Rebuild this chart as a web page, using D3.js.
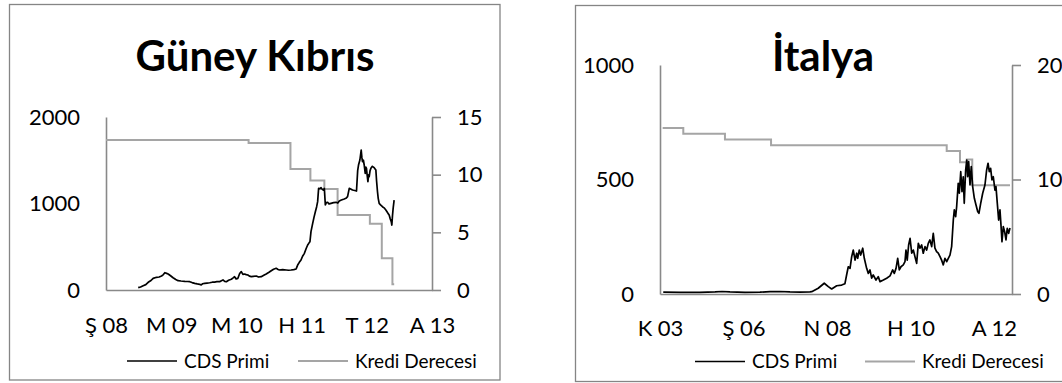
<!DOCTYPE html>
<html>
<head>
<meta charset="utf-8">
<script src="https://cdn.jsdelivr.net/npm/d3@7"></script>
<style>
  html, body { margin: 0; padding: 0; background: #fff; }
  svg { display: block; }
  text { font-family: Lato, "Open Sans", sans-serif; fill: #000; }
</style>
</head>
<body>
<svg id="chart" width="1062" height="383"></svg>
<script>
// ---------- Güney Kıbrıs ----------
// x positions are in label-interval units (0 = first date label, 1 = next, ...)
const cyprusTitle = "Güney Kıbrıs";
const cyprusXLabels = ["Ş 08", "M 09", "M 10", "H 11", "T 12", "A 13"];
const cyprusLeftTicks = [0, 1000, 2000];
const cyprusRightTicks = [0, 5, 10, 15];
const cyprusCds = [
  [0.494, 27], [0.530, 35], [0.570, 50], [0.610, 62], [0.647, 89], [0.690, 110], [0.723, 135],
  [0.775, 147], [0.815, 150], [0.852, 162], [0.880, 178], [0.902, 200], [0.930, 192], [0.953, 185],
  [0.990, 165], [1.029, 142], [1.070, 122], [1.106, 108], [1.150, 104], [1.208, 100], [1.250, 98],
  [1.284, 96], [1.320, 86], [1.361, 77], [1.400, 70], [1.437, 66], [1.460, 58], [1.480, 72],
  [1.514, 77], [1.550, 80], [1.590, 84], [1.630, 90], [1.667, 92], [1.700, 96], [1.743, 96],
  [1.770, 108], [1.794, 116], [1.820, 100], [1.846, 96], [1.880, 112], [1.922, 124], [1.950, 140],
  [1.972, 154], [1.995, 128], [2.023, 135], [2.050, 190], [2.075, 212], [2.100, 180], [2.125, 185],
  [2.150, 178], [2.176, 173], [2.200, 160], [2.228, 154], [2.260, 158], [2.304, 162], [2.340, 150],
  [2.381, 154], [2.420, 170], [2.457, 185], [2.500, 205], [2.534, 223], [2.570, 240], [2.610, 251],
  [2.640, 238], [2.661, 231], [2.710, 236], [2.763, 231], [2.800, 228], [2.839, 231], [2.880, 236],
  [2.916, 243], [2.930, 270], [2.940, 289], [2.965, 320], [2.991, 347], [3.015, 390], [3.043, 424],
  [3.070, 480], [3.093, 520], [3.115, 545], [3.128, 558], [3.144, 674], [3.170, 771], [3.190, 840],
  [3.211, 905], [3.230, 960], [3.246, 1021], [3.261, 1175], [3.280, 1170], [3.298, 1183],
  [3.315, 1165], [3.333, 1156], [3.349, 1175], [3.364, 983], [3.380, 1010], [3.399, 1014],
  [3.420, 995], [3.451, 1002], [3.490, 1010], [3.528, 1014], [3.555, 1005], [3.578, 1029],
  [3.610, 1040], [3.654, 1052], [3.680, 1060], [3.705, 1079], [3.731, 1175], [3.760, 1165],
  [3.781, 1156], [3.815, 1150], [3.842, 1144], [3.860, 1380], [3.873, 1445], [3.894, 1503],
  [3.914, 1618], [3.925, 1530], [3.934, 1483], [3.948, 1500], [3.960, 1445], [3.976, 1349],
  [3.986, 1420], [3.995, 1407], [4.005, 1330], [4.017, 1252], [4.028, 1330], [4.037, 1310],
  [4.050, 1380], [4.063, 1407], [4.085, 1430], [4.113, 1414], [4.139, 1387], [4.150, 1260],
  [4.164, 1136], [4.175, 1060], [4.190, 1002], [4.215, 980], [4.240, 963], [4.265, 950],
  [4.292, 925], [4.310, 905], [4.330, 880], [4.343, 867], [4.360, 820], [4.375, 790],
  [4.384, 751], [4.394, 860], [4.404, 944], [4.419, 1040]
];
// average rating as [start, level] steps
const cyprusRating = [
  [0.000, 13.0], [2.187, 12.75], [2.829, 10.5], [3.135, 9.5], [3.349, 8.75],
  [3.552, 6.5], [4.047, 5.75], [4.230, 2.75], [4.393, 0.5], [4.420, 0.5]
];

// ---------- İtalya ----------
const italyTitle = "İtalya";
const italyXLabels = ["K 03", "Ş 06", "N 08", "H 10", "A 12"];
const italyLeftTicks = [0, 500, 1000];
const italyRightTicks = [0, 10, 20];
const italyCds = [
  [0.039, 8], [0.240, 7], [0.479, 7], [0.659, 9], [0.743, 11], [0.838, 9], [1.018, 7],
  [1.197, 8], [1.318, 10], [1.437, 11], [1.556, 9], [1.677, 8], [1.796, 9], [1.817, 10],
  [1.895, 25], [1.967, 47], [2.016, 32], [2.056, 22], [2.116, 36], [2.176, 39], [2.215, 45],
  [2.235, 83], [2.255, 119], [2.276, 112], [2.296, 163], [2.315, 192], [2.336, 148],
  [2.356, 178], [2.368, 156], [2.387, 192], [2.404, 170], [2.428, 200], [2.447, 156],
  [2.475, 112], [2.495, 90], [2.515, 105], [2.535, 69], [2.554, 83], [2.587, 61], [2.614, 76],
  [2.635, 54], [2.675, 61], [2.715, 69], [2.755, 79], [2.787, 105], [2.806, 90], [2.827, 112],
  [2.847, 156], [2.866, 105], [2.886, 119], [2.914, 127], [2.934, 141], [2.946, 192],
  [2.961, 148], [2.978, 214], [2.995, 243], [3.015, 178], [3.034, 192], [3.054, 163],
  [3.074, 134], [3.094, 221], [3.114, 200], [3.134, 214], [3.153, 178], [3.174, 207],
  [3.194, 192], [3.213, 221], [3.233, 236], [3.254, 207], [3.273, 265], [3.293, 200],
  [3.313, 185], [3.333, 178], [3.354, 163], [3.373, 148], [3.393, 127], [3.413, 156],
  [3.434, 141], [3.453, 156], [3.473, 170], [3.493, 207], [3.513, 323], [3.525, 367],
  [3.541, 338], [3.553, 381], [3.572, 483], [3.585, 440], [3.602, 534], [3.617, 447],
  [3.632, 512], [3.644, 396], [3.661, 541], [3.674, 585], [3.685, 512], [3.697, 578],
  [3.713, 476], [3.728, 556], [3.745, 469], [3.765, 418], [3.785, 389], [3.805, 360],
  [3.820, 352], [3.841, 396], [3.865, 440], [3.892, 476], [3.912, 541], [3.929, 571],
  [3.944, 534], [3.960, 549], [3.976, 498], [3.992, 512], [4.012, 454], [4.024, 469],
  [4.040, 396], [4.056, 323], [4.072, 367], [4.084, 301], [4.096, 228], [4.112, 294],
  [4.128, 272], [4.144, 236], [4.159, 287], [4.176, 265], [4.192, 288]
];
const italyRating = [
  [0.032, 14.5], [0.279, 14.0], [0.778, 13.5], [1.330, 13.0], [3.434, 12.5],
  [3.593, 11.5], [3.674, 11.75], [3.740, 9.5], [4.192, 9.5]
];

const legendLabels = ["CDS Primi", "Kredi Derecesi"];

// ---------- layout ----------
const panels = [
  {
    title: cyprusTitle, xLabels: cyprusXLabels, cds: cyprusCds, rating: cyprusRating,
    leftTicks: cyprusLeftTicks, rightTicks: cyprusRightTicks,
    box: [9.5, 4.5, 490.5, 375.5],
    x0: 106, x1: 432, tMax: 5, yTop: 117, yBot: 290,
    titleX: 255, titleY: 71, xLabelY: 333, rightPad: 16,
    legend: { y: 361, cdsLine: [127, 177], cdsText: 184, ratLine: [298, 348], ratText: 355 }
  },
  {
    title: italyTitle, xLabels: italyXLabels, cds: italyCds, rating: italyRating,
    leftTicks: italyLeftTicks, rightTicks: italyRightTicks,
    box: [575.5, 5.5, 600, 376],
    x0: 660, x1: 1012, tMax: 4.216, yTop: 65, yBot: 294,
    titleX: 823, titleY: 71, xLabelY: 336, rightPad: 16,
    legend: { y: 361.5, cdsLine: [695, 745], cdsText: 752, ratLine: [865, 915], ratText: 922 }
  }
];

const AXIS = "#898989";
const RATING = "#a5a5a5";
const svg = d3.select("#chart");

function drawPanel(p) {
  const g = svg.append("g");

  g.append("rect")
    .attr("x", p.box[0]).attr("y", p.box[1])
    .attr("width", p.box[2]).attr("height", p.box[3])
    .attr("fill", "#fff").attr("stroke", "#858585").attr("stroke-width", 1.3);

  const x = d3.scaleLinear().domain([0, p.tMax]).range([p.x0, p.x1]);
  const yL = d3.scaleLinear().domain([0, d3.max(p.leftTicks)]).range([p.yBot, p.yTop]);
  const yR = d3.scaleLinear().domain([0, d3.max(p.rightTicks)]).range([p.yBot, p.yTop]);

  // title
  g.append("text")
    .attr("x", p.titleX).attr("y", p.titleY)
    .attr("text-anchor", "middle")
    .style("font-size", "42px").style("font-weight", "bold")
    .text(p.title);

  // axes
  const styleAxis = (sel) => {
    sel.attr("font-family", null).attr("font-size", null);
    sel.select(".domain").attr("stroke", AXIS).attr("stroke-width", 1.6);
    sel.selectAll(".tick line").attr("stroke", AXIS).attr("stroke-width", 1.6);
    sel.selectAll("text").style("font-size", "22px").attr("fill", "#000");
  };
  const plain = d3.format("d");

  g.append("g")
    .attr("transform", `translate(${p.x0},0)`)
    .call(d3.axisLeft(yL).tickValues(p.leftTicks).tickFormat(plain)
      .tickSize(0).tickPadding(26).tickSizeOuter(0))
    .call(styleAxis);

  g.append("g")
    .attr("transform", `translate(${p.x1},0)`)
    .call(d3.axisRight(yR).tickValues(p.rightTicks).tickFormat(plain)
      .tickSize(9).tickPadding(p.rightPad).tickSizeOuter(0))
    .call(styleAxis);

  g.append("g")
    .attr("transform", `translate(0,${p.yBot})`)
    .call(d3.axisBottom(x).tickValues(d3.range(p.xLabels.length))
      .tickFormat(i => p.xLabels[i]).tickSize(0).tickSizeOuter(0))
    .call(styleAxis)
    .call(s => s.selectAll("text").attr("dy", null).attr("y", p.xLabelY - p.yBot));

  // rating steps
  g.append("path")
    .datum(p.rating)
    .attr("fill", "none").attr("stroke", RATING).attr("stroke-width", 2)
    .attr("d", d3.line().x(d => x(d[0])).y(d => yR(d[1])).curve(d3.curveStepAfter));

  // CDS premium
  g.append("path")
    .datum(p.cds)
    .attr("fill", "none").attr("stroke", "#000").attr("stroke-width", 1.7)
    .attr("stroke-linejoin", "round")
    .attr("d", d3.line().x(d => x(d[0])).y(d => yL(d[1])));

  // legend
  const L = p.legend;
  g.append("line").attr("x1", L.cdsLine[0]).attr("x2", L.cdsLine[1])
    .attr("y1", L.y).attr("y2", L.y).attr("stroke", "#000").attr("stroke-width", 1.5);
  g.append("text").attr("x", L.cdsText).attr("y", L.y).attr("dy", "0.35em")
    .style("font-size", "19px").text(legendLabels[0]);
  g.append("line").attr("x1", L.ratLine[0]).attr("x2", L.ratLine[1])
    .attr("y1", L.y).attr("y2", L.y).attr("stroke", RATING).attr("stroke-width", 2);
  g.append("text").attr("x", L.ratText).attr("y", L.y).attr("dy", "0.35em")
    .style("font-size", "19px").text(legendLabels[1]);
}

panels.forEach(drawPanel);
</script>
</body>
</html>
